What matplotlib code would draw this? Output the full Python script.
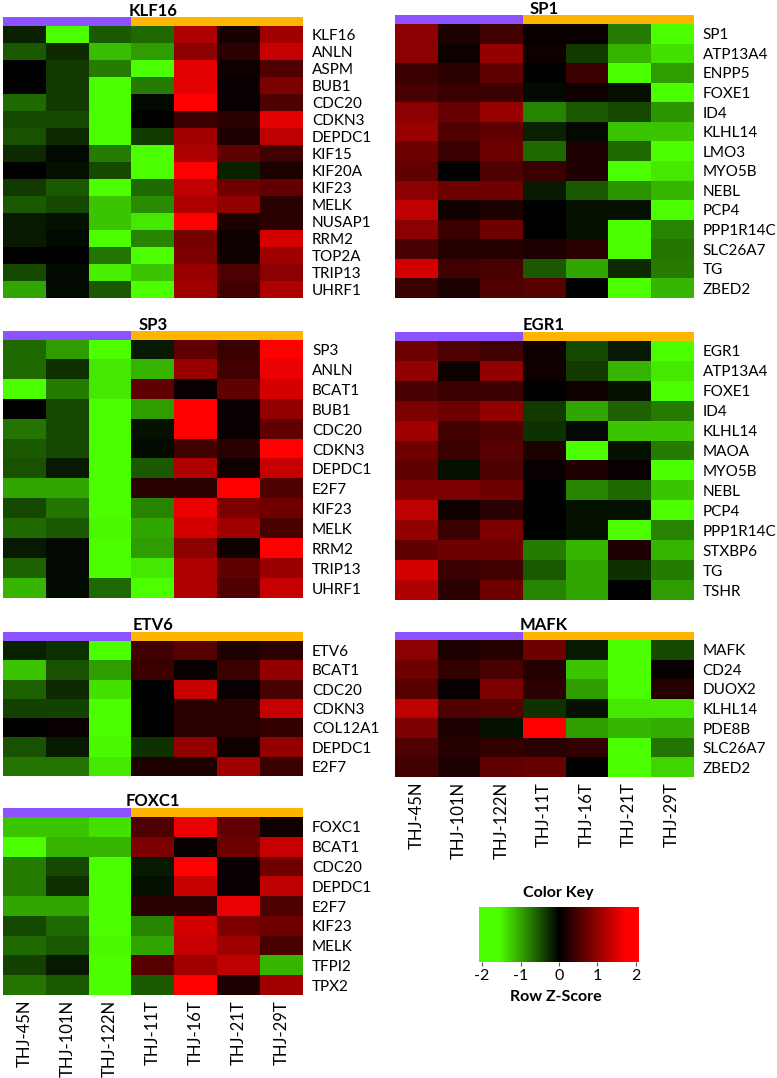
import numpy as np
import matplotlib
matplotlib.use("Agg")
import matplotlib.pyplot as plt
from matplotlib.colors import LinearSegmentedColormap, ListedColormap, Normalize

plt.rcParams['font.family'] = ['Lato', 'DejaVu Sans']
plt.rcParams['axes.unicode_minus'] = False

# ---------------- data ----------------
samples = ["THJ-45N", "THJ-101N", "THJ-122N", "THJ-11T", "THJ-16T", "THJ-21T", "THJ-29T"]
groups = [0, 0, 0, 1, 1, 1, 1]  # 0 = normal, 1 = tumour

klf16_genes = ["KLF16", "ANLN", "ASPM", "BUB1", "CDC20", "CDKN3", "DEPDC1", "KIF15",
               "KIF20A", "KIF23", "MELK", "NUSAP1", "RRM2", "TOP2A", "TRIP13", "UHRF1"]
klf16_z = [
    [-0.2, -1.8, -0.55, -0.65, 1.2, 0.15, 1.1],
    [-0.55, -0.25, -1.15, -0.95, 0.95, 0.3, 1.35],
    [0.0, -0.35, -0.75, -1.8, 1.55, 0.1, 0.55],
    [0.0, -0.35, -1.8, -0.75, 1.55, 0.05, 0.85],
    [-0.65, -0.35, -1.8, -0.05, 1.85, 0.05, 0.55],
    [-0.45, -0.45, -1.8, 0.0, 0.4, 0.3, 1.55],
    [-0.5, -0.25, -1.8, -0.35, 1.1, 0.2, 1.3],
    [-0.25, -0.05, -0.75, -1.8, 1.2, 0.65, 0.45],
    [0.0, -0.1, -0.45, -1.8, 1.9, -0.2, 0.2],
    [-0.35, -0.55, -1.8, -0.65, 1.3, 0.75, 0.65],
    [-0.55, -0.45, -1.2, -0.85, 1.2, 1.0, 0.3],
    [-0.15, -0.1, -1.2, -1.4, 1.9, 0.2, 0.3],
    [-0.15, -0.05, -1.8, -0.8, 0.8, 0.1, 1.45],
    [0.0, 0.0, -0.7, -1.8, 0.85, 0.1, 1.1],
    [-0.45, -0.05, -1.45, -1.2, 1.05, 0.55, 0.95],
    [-1.0, -0.05, -0.55, -1.8, 1.1, 0.45, 1.2],
]

sp1_genes = ["SP1", "ATP13A4", "ENPP5", "FOXE1", "ID4", "KLHL14", "LMO3", "MYO5B",
             "NEBL", "PCP4", "PPP1R14C", "SLC26A7", "TG", "ZBED2"]
sp1_z = [
    [0.95, 0.2, 0.45, 0.05, 0.05, -0.75, -1.8],
    [0.95, 0.1, 1.0, 0.1, -0.35, -1.1, -1.35],
    [0.4, 0.3, 0.65, 0.0, 0.4, -1.8, -0.95],
    [0.5, 0.4, 0.4, -0.05, 0.1, -0.1, -1.8],
    [0.95, 0.7, 1.05, -0.8, -0.55, -0.45, -0.9],
    [1.05, 0.55, 0.65, -0.2, -0.05, -1.2, -1.2],
    [0.75, 0.4, 0.75, -0.65, 0.2, -0.65, -1.8],
    [0.65, 0.0, 0.55, 0.4, 0.2, -1.8, -1.4],
    [0.95, 0.75, 0.75, -0.15, -0.55, -0.9, -1.1],
    [1.3, 0.1, 0.2, 0.0, -0.1, -0.1, -1.8],
    [0.95, 0.4, 0.75, 0.0, -0.1, -1.8, -0.8],
    [0.5, 0.25, 0.25, 0.2, 0.3, -1.75, -0.7],
    [1.45, 0.45, 0.5, -0.55, -1.0, -0.25, -0.75],
    [0.4, 0.2, 0.55, 0.6, 0.0, -1.8, -1.1],
]

sp3_genes = ["SP3", "ANLN", "BCAT1", "BUB1", "CDC20", "CDKN3", "DEPDC1", "E2F7",
             "KIF23", "MELK", "RRM2", "TRIP13", "UHRF1"]
sp3_z = [
    [-0.65, -0.95, -1.8, -0.15, 0.65, 0.4, 1.85],
    [-0.65, -0.3, -1.4, -1.1, 1.05, 0.45, 1.6],
    [-1.8, -0.75, -1.4, 0.65, 0.05, 0.65, 1.45],
    [0.0, -0.45, -1.8, -0.95, 1.9, 0.05, 1.0],
    [-0.7, -0.45, -1.8, -0.1, 1.9, 0.05, 0.65],
    [-0.55, -0.45, -1.8, -0.05, 0.45, 0.3, 1.85],
    [-0.5, -0.15, -1.8, -0.55, 1.2, 0.1, 1.35],
    [-1.0, -1.0, -1.8, 0.3, 0.3, 1.85, 0.55],
    [-0.45, -0.7, -1.8, -0.8, 1.6, 0.85, 0.75],
    [-0.65, -0.55, -1.5, -1.0, 1.45, 1.1, 0.5],
    [-0.15, -0.05, -1.8, -0.95, 0.95, 0.1, 1.85],
    [-0.6, -0.05, -1.8, -1.4, 1.2, 0.65, 1.05],
    [-1.1, -0.05, -0.65, -1.8, 1.2, 0.55, 1.35],
]

egr1_genes = ["EGR1", "ATP13A4", "FOXE1", "ID4", "KLHL14", "MAOA", "MYO5B", "NEBL",
              "PCP4", "PPP1R14C", "STXBP6", "TG", "TSHR"]
egr1_z = [
    [0.75, 0.55, 0.45, 0.1, -0.45, -0.15, -1.8],
    [1.0, 0.1, 1.0, 0.1, -0.35, -1.1, -1.4],
    [0.5, 0.4, 0.4, 0.0, 0.1, -0.1, -1.8],
    [0.85, 0.75, 1.0, -0.35, -1.0, -0.6, -0.75],
    [1.1, 0.45, 0.55, -0.3, -0.05, -1.2, -1.2],
    [0.75, 0.4, 0.6, 0.2, -1.8, -0.1, -0.75],
    [0.65, -0.1, 0.55, 0.05, 0.2, 0.05, -1.8],
    [0.85, 0.85, 0.75, 0.0, -0.8, -0.65, -1.2],
    [1.3, 0.1, 0.3, 0.0, -0.1, -0.1, -1.8],
    [1.0, 0.4, 0.85, 0.0, -0.1, -1.8, -0.8],
    [0.65, 0.75, 0.75, -0.75, -1.1, 0.2, -1.1],
    [1.45, 0.4, 0.45, -0.55, -1.0, -0.3, -0.75],
    [1.2, 0.3, 0.75, -0.8, -1.0, 0.0, -0.95],
]

etv6_genes = ["ETV6", "BCAT1", "CDC20", "CDKN3", "COL12A1", "DEPDC1", "E2F7"]
etv6_z = [
    [-0.2, -0.3, -1.8, 0.45, 0.6, 0.2, 0.3],
    [-1.2, -0.5, -0.95, 0.4, 0.05, 0.4, 1.0],
    [-0.6, -0.25, -1.35, 0.0, 1.35, 0.05, 0.5],
    [-0.4, -0.4, -1.7, 0.0, 0.3, 0.3, 1.35],
    [0.0, 0.05, -1.8, 0.0, 0.3, 0.3, 0.35],
    [-0.5, -0.15, -1.5, -0.3, 1.0, 0.1, 1.0],
    [-0.7, -0.7, -1.4, 0.2, 0.2, 1.1, 0.4],
]

mafk_genes = ["MAFK", "CD24", "DUOX2", "KLHL14", "PDE8B", "SLC26A7", "ZBED2"]
mafk_z = [
    [0.95, 0.2, 0.25, 0.75, -0.15, -1.8, -0.45],
    [0.75, 0.35, 0.5, 0.25, -1.2, -1.8, 0.05],
    [0.6, 0.05, 0.85, 0.3, -0.95, -1.8, 0.25],
    [1.3, 0.55, 0.6, -0.3, -0.1, -1.4, -1.4],
    [0.85, 0.2, -0.1, 1.85, -0.95, -1.1, -1.05],
    [0.55, 0.25, 0.35, 0.3, 0.35, -1.8, -0.7],
    [0.45, 0.2, 0.65, 0.7, 0.0, -1.8, -1.3],
]

foxc1_genes = ["FOXC1", "BCAT1", "CDC20", "DEPDC1", "E2F7", "KIF23", "MELK", "TFPI2", "TPX2"]
foxc1_z = [
    [-1.2, -1.2, -1.35, 0.55, 1.6, 0.65, 0.1],
    [-1.8, -1.1, -1.1, 0.85, 0.05, 0.75, 1.35],
    [-0.75, -0.45, -1.8, -0.15, 1.9, 0.05, 0.75],
    [-0.75, -0.3, -1.8, -0.1, 1.35, 0.05, 1.3],
    [-1.0, -1.0, -1.8, 0.3, 0.3, 1.6, 0.55],
    [-0.45, -0.65, -1.8, -0.8, 1.45, 0.85, 0.75],
    [-0.65, -0.55, -1.5, -1.0, 1.35, 1.1, 0.5],
    [-0.4, -0.15, -1.8, 0.6, 1.1, 1.3, -1.1],
    [-0.7, -0.55, -1.8, -0.55, 1.75, 0.2, 1.1],
]

key_ticks = [-2, -1, 0, 1, 2]

# ---------------- styling ----------------
W, H = 777, 1078
fig = plt.figure(figsize=(W / 100, H / 100), dpi=100)

ZMAX = 2.08
LIME = (0.30, 1.0, 0.0)
cmap = LinearSegmentedColormap.from_list(
    "gr", [(0.0, LIME), ((-1.55 + ZMAX) / (2 * ZMAX), LIME), (0.5, (0, 0, 0)),
           ((1.75 + ZMAX) / (2 * ZMAX), (1, 0, 0)), (1.0, (1, 0, 0))])
norm = Normalize(-ZMAX, ZMAX)
bar_cmap = ListedColormap(["#8c52ff", "#ffb400"])


def px_axes(x0, y0, x1, y1):
    return fig.add_axes([x0 / W, 1 - y1 / H, (x1 - x0) / W, (y1 - y0) / H])


def panel(title, genes, vals, x0, x1, bar_top, hm_top, hm_bot, xlabels, label_pad):
    bax = px_axes(x0, bar_top, x1, hm_top)
    bax.imshow(np.array([groups]), cmap=bar_cmap, vmin=0, vmax=1, aspect="auto",
               interpolation="nearest")
    bax.axis("off")
    ax = px_axes(x0, hm_top, x1, hm_bot)
    ax.imshow(np.array(vals), cmap=cmap, norm=norm, aspect="auto", interpolation="nearest")
    for s in ax.spines.values():
        s.set_visible(False)
    ax.yaxis.tick_right()
    ax.set_yticks(range(len(genes)))
    ax.set_yticklabels(genes, fontsize=11)
    ax.tick_params(axis="y", length=0, pad=label_pad)
    if xlabels:
        ax.set_xticks(range(len(samples)))
        ax.set_xticklabels(samples, rotation=90, fontsize=12, va="top")
        ax.tick_params(axis="x", length=0, pad=3.5)
    else:
        ax.set_xticks([])
    fig.text(((x0 + x1) / 2) / W, 1 - (bar_top - 1.5) / H, title, ha="center",
             va="baseline", fontsize=12, fontweight="bold")


LX0, LX1 = 3, 303
RX0, RX1 = 395, 693
panel("KLF16", klf16_genes, klf16_z, LX0, LX1, 17, 26, 298, False, 6.5)
panel("SP1", sp1_genes, sp1_z, RX0, RX1, 15, 24, 298, False, 7)
panel("SP3", sp3_genes, sp3_z, LX0, LX1, 331, 340, 598, False, 6.5)
panel("EGR1", egr1_genes, egr1_z, RX0, RX1, 332, 341, 600, False, 7)
panel("ETV6", etv6_genes, etv6_z, LX0, LX1, 632, 641, 776, False, 6.5)
panel("MAFK", mafk_genes, mafk_z, RX0, RX1, 632, 640, 777, True, 7)
panel("FOXC1", foxc1_genes, foxc1_z, LX0, LX1, 808, 817, 995, True, 6.5)

# ---------------- colour key ----------------
kax = px_axes(479, 907, 639, 962)
grad = np.linspace(-ZMAX, ZMAX, 400)[None, :]
kax.imshow(grad, cmap=cmap, norm=norm, aspect="auto", extent=[-ZMAX, ZMAX, 0, 1])
for s in kax.spines.values():
    s.set_visible(False)
kax.set_yticks([])
kax.set_xticks(key_ticks)
kax.set_xticklabels([str(t) for t in key_ticks], fontsize=11.5)
kax.tick_params(axis="x", length=3, width=0.8, color="#555555", pad=2)
fig.text(558 / W, 1 - 893 / H, "Color Key", ha="center", va="center",
         fontsize=11.5, fontweight="bold")
fig.text(556 / W, 1 - 997 / H, "Row Z-Score", ha="center", va="center",
         fontsize=11.5, fontweight="bold")

fig.savefig("out.png", dpi=100, facecolor="white")
